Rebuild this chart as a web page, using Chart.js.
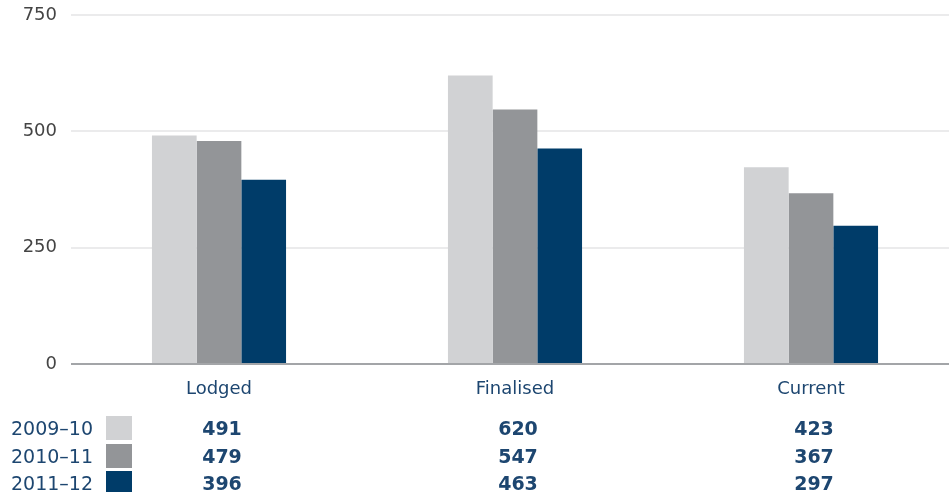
<!DOCTYPE html>
<html>
<head>
<meta charset="utf-8">
<script src="https://cdn.jsdelivr.net/npm/chart.js@4"></script>
<style>
  html, body { margin: 0; padding: 0; background: #fff; overflow: hidden; }
  #wrap { width: 959px; height: 492px; }
</style>
</head>
<body>
<div id="wrap"><canvas id="c" width="959" height="492"></canvas></div>
<script>
// Matters by stage, per financial year
const categories = ['Lodged', 'Finalised', 'Current'];
const years = ['2009\u201310', '2010\u201311', '2011\u201312'];
const values2009 = [491, 620, 423];
const values2010 = [479, 547, 367];
const values2011 = [396, 463, 297];
const yTicks = [0, 250, 500, 750];

const seriesValues = [values2009, values2010, values2011];
const colours = ['#d1d2d4', '#939598', '#003c69'];
const navy = '#1d4670';
const FONT = '"DejaVu Sans", sans-serif';

// Table of values drawn under the category labels
const tablePlugin = {
  id: 'valueTable',
  afterDraw(chart) {
    const ctx = chart.ctx;
    const xs = chart.scales.x;
    const baselines = [435, 463, 490];
    ctx.save();
    years.forEach((yr, i) => {
      const b = baselines[i];
      ctx.textBaseline = 'alphabetic';
      ctx.textAlign = 'left';
      ctx.fillStyle = navy;
      ctx.font = '19px ' + FONT;
      ctx.fillText(yr, 11, b);
      ctx.fillStyle = colours[i];
      ctx.fillRect(106, b - 19, 26, 24);
      ctx.fillStyle = navy;
      ctx.textAlign = 'center';
      ctx.font = 'bold 19px ' + FONT;
      categories.forEach((cat, j) => {
        ctx.fillText(String(seriesValues[i][j]), xs.getPixelForValue(j) + 3, b);
      });
    });
    ctx.restore();
  }
};

new Chart(document.getElementById('c'), {
  type: 'bar',
  data: {
    labels: categories,
    datasets: years.map((yr, i) => ({
      label: yr,
      data: seriesValues[i],
      backgroundColor: colours[i],
      borderWidth: 0,
      barPercentage: 1,
      categoryPercentage: 0.453
    }))
  },
  options: {
    responsive: false,
    animation: false,
    layout: { padding: { top: 15, left: 0, right: 0, bottom: 0 } },
    plugins: { legend: { display: false }, tooltip: { enabled: false } },
    scales: {
      x: {
        grid: { display: false },
        border: { display: false },
        ticks: {
          color: navy,
          font: { family: FONT, size: 18 },
          padding: 7
        },
        afterFit(scale) {
          scale.height = 128;
          scale.paddingLeft = 0;
          scale.paddingRight = 0;
        }
      },
      y: {
        min: 0,
        max: 750,
        afterBuildTicks(scale) { scale.ticks = yTicks.map(v => ({ value: v })); },
        border: { display: false },
        grid: {
          drawTicks: false,
          lineWidth: 2,
          color: ctx => ctx.tick && ctx.tick.value === 0 ? '#a3a5a8' : '#ebebec'
        },
        ticks: {
          color: '#444',
          font: { family: FONT, size: 18 },
          padding: 14
        },
        afterFit(scale) {
          scale.width = 71;
          scale.paddingTop = 0;
          scale.paddingBottom = 0;
        }
      }
    }
  },
  plugins: [tablePlugin]
});
</script>
</body>
</html>
